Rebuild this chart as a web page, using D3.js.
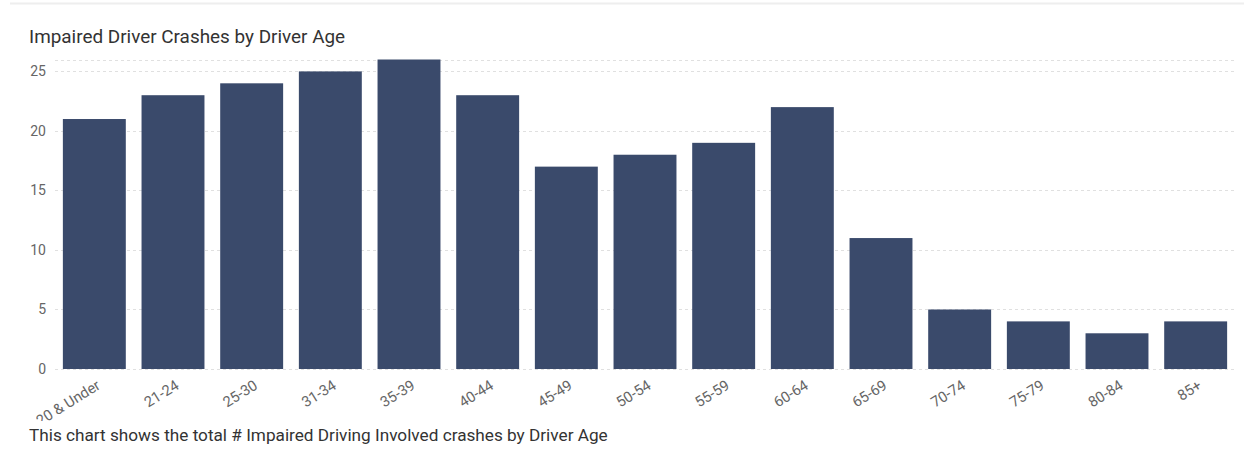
<!DOCTYPE html>
<html><head><meta charset="utf-8">
<script src="https://cdn.jsdelivr.net/npm/d3@7"></script>
<style>body{margin:0;background:#fff;font-family:Roboto,sans-serif}</style>
</head><body>
<svg id="c" width="1254" height="466"></svg>
<script>
const categories = ["20 & Under","21-24","25-30","31-34","35-39","40-44","45-49","50-54","55-59","60-64","65-69","70-74","75-79","80-84","85+"];
const values = [21,23,24,25,26,23,17,18,19,22,11,5,4,3,4];
const yTicks = [0,5,10,15,20,25];
const title = "Impaired Driver Crashes by Driver Age";
const caption = "This chart shows the total # Impaired Driving Involved crashes by Driver Age";

const svg = d3.select("#c");
const m = {l:55, r:1235, t:59.5, b:369};
svg.append("defs").append("clipPath").attr("id","clip").append("rect").attr("x",36).attr("y",0).attr("width",1218).attr("height",421);
svg.append("line").attr("x1",10).attr("x2",1244).attr("y1",3.5).attr("y2",3.5).attr("stroke","#eeeeee").attr("stroke-width",2);
const x = d3.scaleBand().domain(categories).range([m.l,m.r]).paddingInner(0.2).paddingOuter(0.1);
const y = d3.scaleLinear().domain([0,26]).range([m.b,m.t]);

const grid = svg.append("g");
grid.selectAll("line").data(yTicks.concat([26])).join("line")
  .attr("x1",m.l).attr("x2",m.r).attr("y1",d=>Math.round(y(d))+0.5).attr("y2",d=>Math.round(y(d))+0.5)
  .attr("stroke","#e0e0e0").attr("stroke-dasharray","3,3");

const ya = svg.append("g").attr("transform",`translate(${m.l-9},0)`)
  .call(d3.axisLeft(y).tickValues(yTicks).tickSize(0).tickPadding(0));
ya.select(".domain").remove();
ya.selectAll("text").attr("fill","#666").style("font-size","14px").style("font-family","Roboto");

svg.append("g").selectAll("rect").data(values).join("rect")
  .attr("x",(d,i)=>x(categories[i])).attr("width",x.bandwidth())
  .attr("y",d=>y(d)).attr("height",d=>y(0)-y(d)).attr("fill","#3a4a6b");

const xa = svg.append("g").attr("clip-path","url(#clip)").append("g").attr("transform",`translate(0,${m.b})`)
  .call(d3.axisBottom(x).tickSize(0).tickPadding(0));
xa.select(".domain").remove();
xa.selectAll("text").attr("fill","#666").style("font-size","14.8px").style("font-family","Roboto")
  .attr("text-anchor","end").attr("dy","0").attr("transform","translate(7,19) rotate(-32)");

svg.append("text").attr("x",29).attr("y",43).text(title).attr("fill","#333").style("font-size","18.9px").style("font-family","Roboto");
svg.append("text").attr("x",29).attr("y",441).text(caption).attr("fill","#333").style("font-size","17.2px").style("font-family","Roboto");
</script>
</body></html>
